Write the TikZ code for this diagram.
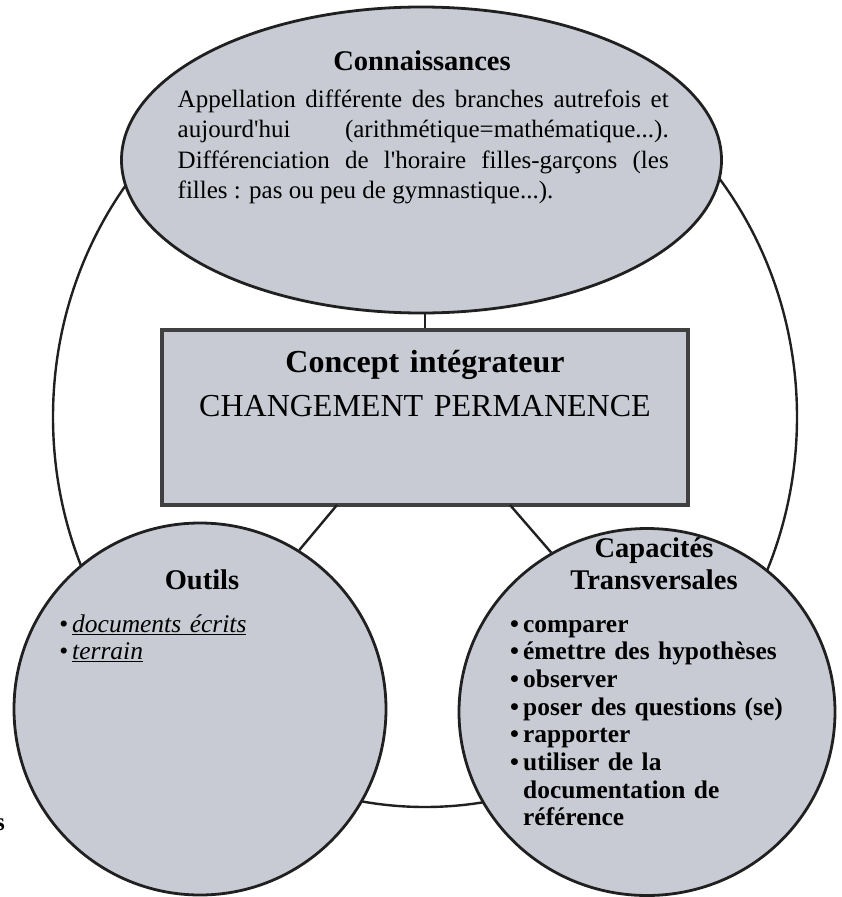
\documentclass[tikz,border=0pt]{standalone}
\usepackage{fontspec}
\setmainfont{Liberation Serif}
\usepackage{xcolor}
\usetikzlibrary{shapes.geometric,positioning}
\definecolor{bubblefill}{RGB}{200,203,212}
\definecolor{rim}{RGB}{32,32,32}
\newcommand{\itembul}{\makebox[13pt][l]{\textbullet}}

\begin{document}
\begin{tikzpicture}[x=1pt,y=-1pt,
  bubble/.style={ellipse,draw=rim,line width=2.8pt,fill=bubblefill,inner sep=0pt},
  link/.style={draw=rim,line width=2.4pt},
  head/.style={font=\fontsize{28.5}{32}\selectfont\bfseries,align=center,
    text width=260pt,inner sep=0pt,anchor=base},
  items/.style={align=left,text width=320pt,inner sep=0pt,anchor=base west}]
\useasboundingbox (0,0) rectangle (841,897);
\node[ellipse,draw=rim,line width=2.4pt,inner sep=0pt,
  minimum width=744pt,minimum height=780pt] (ring) at (425,417) {};
\node[bubble,minimum width=600pt,minimum height=306pt] (conn) at (421.5,160) {};
\node[draw=black!75,line width=3.4pt,fill=bubblefill,inner sep=0pt,
  minimum width=526pt,minimum height=175pt] (concept) at (425,417.5) {};
\node[bubble,minimum width=372pt,minimum height=372pt] (outils) at (200,709) {};
\node[bubble,minimum width=376pt,minimum height=367pt] (capac) at (647,712) {};
\coordinate (cl) at (337,505);
\coordinate (cr) at (510,505);
\draw[link] (concept.north) -- (concept.north |- conn.south);
\draw[link] (cl) -- (outils.58);
\draw[link] (cr) -- (capac.121);
\node[head] (connT) at (422,70) {Connaissances};
\node[anchor=base west,text width=491pt,align=justify,inner sep=0pt,
  font=\fontsize{25}{30.5}\selectfont] (connX) at (177.5,107)
  {Appellation différente des branches autrefois et\linebreak
   aujourd\textquotesingle hui (arithmétique=mathématique...).\linebreak
   Différenciation de l\textquotesingle horaire filles-garçons (les\linebreak
   filles : pas ou peu de gymnastique...).};
\node[anchor=base,text width=500pt,align=center,inner sep=0pt,
  font=\fontsize{32}{44}\selectfont] (conceptT) at (425,372)
  {\textbf{Concept intégrateur}\\CHANGEMENT PERMANENCE};
\node[head] (outilsT) at (202,589) {Outils};
\node[items,font=\fontsize{25.5}{27.7}\selectfont\itshape] (outilsL) at (59,632)
  {\itembul\underline{documents écrits}\\
   \itembul\underline{terrain}};
\node[head] (capacT) at (654,557) {Capacités\\Transversales};
\node[items,font=\fontsize{25.4}{27.7}\selectfont\bfseries] (capacL) at (510,632)
  {\itembul comparer\\
   \itembul émettre des hypothèses\\
   \itembul observer\\
   \itembul poser des questions (se)\\
   \itembul rapporter\\
   \itembul utiliser de la\\
   \hspace*{13pt}documentation de\\
   \hspace*{13pt}référence};
\node[anchor=base east,inner sep=0pt,font=\fontsize{25}{27}\selectfont\bfseries]
  (stray) at (5,830) {s};
\end{tikzpicture}
\end{document}
